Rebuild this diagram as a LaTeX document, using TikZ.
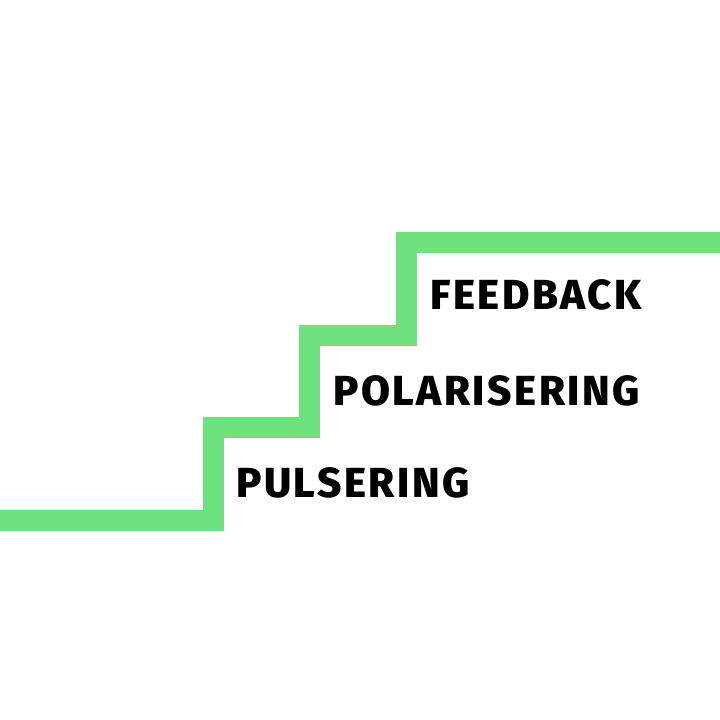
\documentclass[tikz,border=0pt]{standalone}
\usepackage{fontspec}
\setmainfont{Fira Sans}[BoldFont={Fira Sans ExtraBold}]
\newfontfamily\stairfont{Fira Sans ExtraBold}[LetterSpace=6]
\definecolor{stairgreen}{RGB}{109,226,126}
\begin{document}
\begin{tikzpicture}[x=1pt,y=-1pt,
  stair/.style={draw=stairgreen,line width=21pt,line join=miter,line cap=butt},
  label/.style={anchor=base west,inner sep=0pt,font=\stairfont\fontsize{42}{42}\selectfont,text=black}]
\useasboundingbox[fill=white] (0,0) rectangle (720,720);
\begin{scope}
\clip (0,0) rectangle (720,720);
\draw[stair] (-20,520.5) -- (213.5,520.5) -- (213.5,427.5) -- (309.5,427.5) -- (309.5,335) -- (406.5,335) -- (406.5,242.5) -- (740,242.5);
\end{scope}
\node[label] (feedback) at (430,309) {FEEDBACK};
\node[label] (polar) at (333,405) {POLARISERING};
\node[label] (puls) at (236,497) {PULSERING};
\end{tikzpicture}
\end{document}
